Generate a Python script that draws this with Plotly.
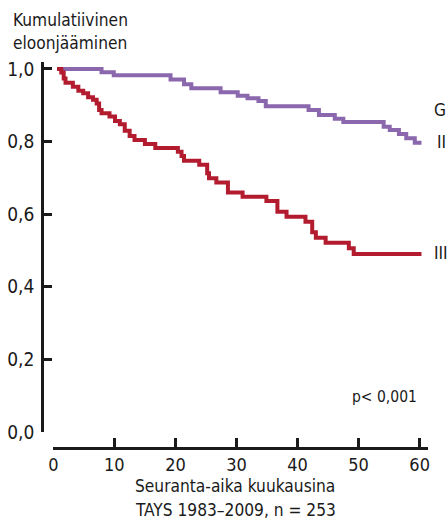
import plotly.graph_objects as go

# Group II (purple) Kaplan-Meier steps
t_II = [0.7, 7.9, 9.9, 19.2, 21.4, 22.6, 27.4, 30.2, 31.8, 33.6, 34.8, 41.8, 43.5,
        46.1, 47.5, 54.1, 55.1, 56.6, 57.8, 59.2, 60.3]
s_II = [1.000, 0.991, 0.983, 0.971, 0.958, 0.947, 0.936, 0.926, 0.919, 0.912, 0.897,
        0.887, 0.873, 0.863, 0.854, 0.841, 0.832, 0.821, 0.809, 0.797, 0.797]

# Group III (red) Kaplan-Meier steps
t_III = [0.6, 1.3, 1.7, 2.0, 3.2, 4.1, 4.9, 5.7, 6.5, 7.1, 7.5, 7.9, 9.2, 10.1, 10.9,
         11.7, 12.5, 13.3, 15.0, 16.7, 20.4, 21.0, 21.4, 23.9, 25.2, 25.5, 26.7, 28.6,
         31.0, 34.9, 36.7, 38.2, 41.3, 42.4, 43.0, 44.6, 48.4, 49.2, 60.3]
s_III = [1.000, 0.990, 0.974, 0.962, 0.951, 0.940, 0.933, 0.922, 0.915, 0.905, 0.887,
         0.878, 0.869, 0.857, 0.848, 0.830, 0.815, 0.804, 0.793, 0.782, 0.772, 0.760,
         0.747, 0.736, 0.713, 0.699, 0.687, 0.660, 0.648, 0.636, 0.607, 0.593, 0.579,
         0.550, 0.535, 0.521, 0.506, 0.490, 0.490]

x_ticks = [0, 10, 20, 30, 40, 50, 60]
y_ticks = [0.0, 0.2, 0.4, 0.6, 0.8, 1.0]
y_ticktext = ["0,0", "0,2", "0,4", "0,6", "0,8", "1,0"]

PURPLE = "#8b67ad"
RED = "#b31b2e"
INK = "#1a1a1a"
FONT = "DejaVu Sans Condensed, Liberation Sans Narrow, sans-serif"
W, H = 448, 522

fig = go.Figure()
fig.add_trace(go.Scatter(x=t_II, y=s_II, mode="lines", line=dict(color=PURPLE, width=4, shape="hv"),
                         showlegend=False, hoverinfo="skip"))
fig.add_trace(go.Scatter(x=t_III, y=s_III, mode="lines", line=dict(color=RED, width=4, shape="hv"),
                         showlegend=False, hoverinfo="skip"))

def px(x):
    return x / W

def py(y):
    return (H - y) / H

fig.update_layout(
    width=W, height=H,
    margin=dict(l=0, r=0, t=0, b=0),
    paper_bgcolor="white", plot_bgcolor="white",
    font=dict(family=FONT, size=17, color=INK),
    xaxis=dict(domain=[px(52.7), px(427.6)], range=[-0.1, 61.3], anchor="free",
               position=py(448), showline=True, linecolor=INK, linewidth=2.5,
               ticks="inside", ticklen=9, tickwidth=2.5, tickcolor=INK,
               tickvals=x_ticks, showgrid=False, zeroline=False,
               tickfont=dict(size=18), automargin=False),
    yaxis=dict(domain=[py(432), py(61.7)], range=[0, 1.02], anchor="free",
               position=px(42), showline=True, linecolor=INK, linewidth=2.5,
               ticks="inside", ticklen=8, tickwidth=2.5, tickcolor=INK,
               tickvals=y_ticks, ticktext=y_ticktext, showgrid=False, zeroline=False,
               tickfont=dict(size=19), ticklabelstandoff=3, automargin=False),
)

ann = [
    dict(text="Kumulatiivinen", x=px(11), y=py(20), xanchor="left"),
    dict(text="eloonjääminen", x=px(11), y=py(43), xanchor="left"),
    dict(text="G", x=px(440), y=py(110), xanchor="center"),
    dict(text="II", x=px(441), y=py(142), xanchor="center"),
    dict(text="III", x=px(441), y=py(253), xanchor="center"),
    dict(text="p< 0,001", x=px(384), y=py(397), xanchor="center", size=15.5),
    dict(text="Seuranta-aika kuukausina", x=px(235), y=py(486), xanchor="center"),
    dict(text="TAYS 1983–2009, n = 253", x=px(235), y=py(510), xanchor="center"),
]
for a in ann:
    fig.add_annotation(text=a["text"], x=a["x"], y=a["y"], xref="paper", yref="paper",
                       xanchor=a["xanchor"], yanchor="middle", showarrow=False,
                       font=dict(size=a.get("size", 17.2), family=FONT, color=INK))

fig.write_html(
    "out.html",
    config={"displayModeBar": False},
    post_script=(
        "document.body.style.margin='0';"
        "document.body.style.overflow='hidden';"
        "document.documentElement.style.overflow='hidden';"
    ),
)
